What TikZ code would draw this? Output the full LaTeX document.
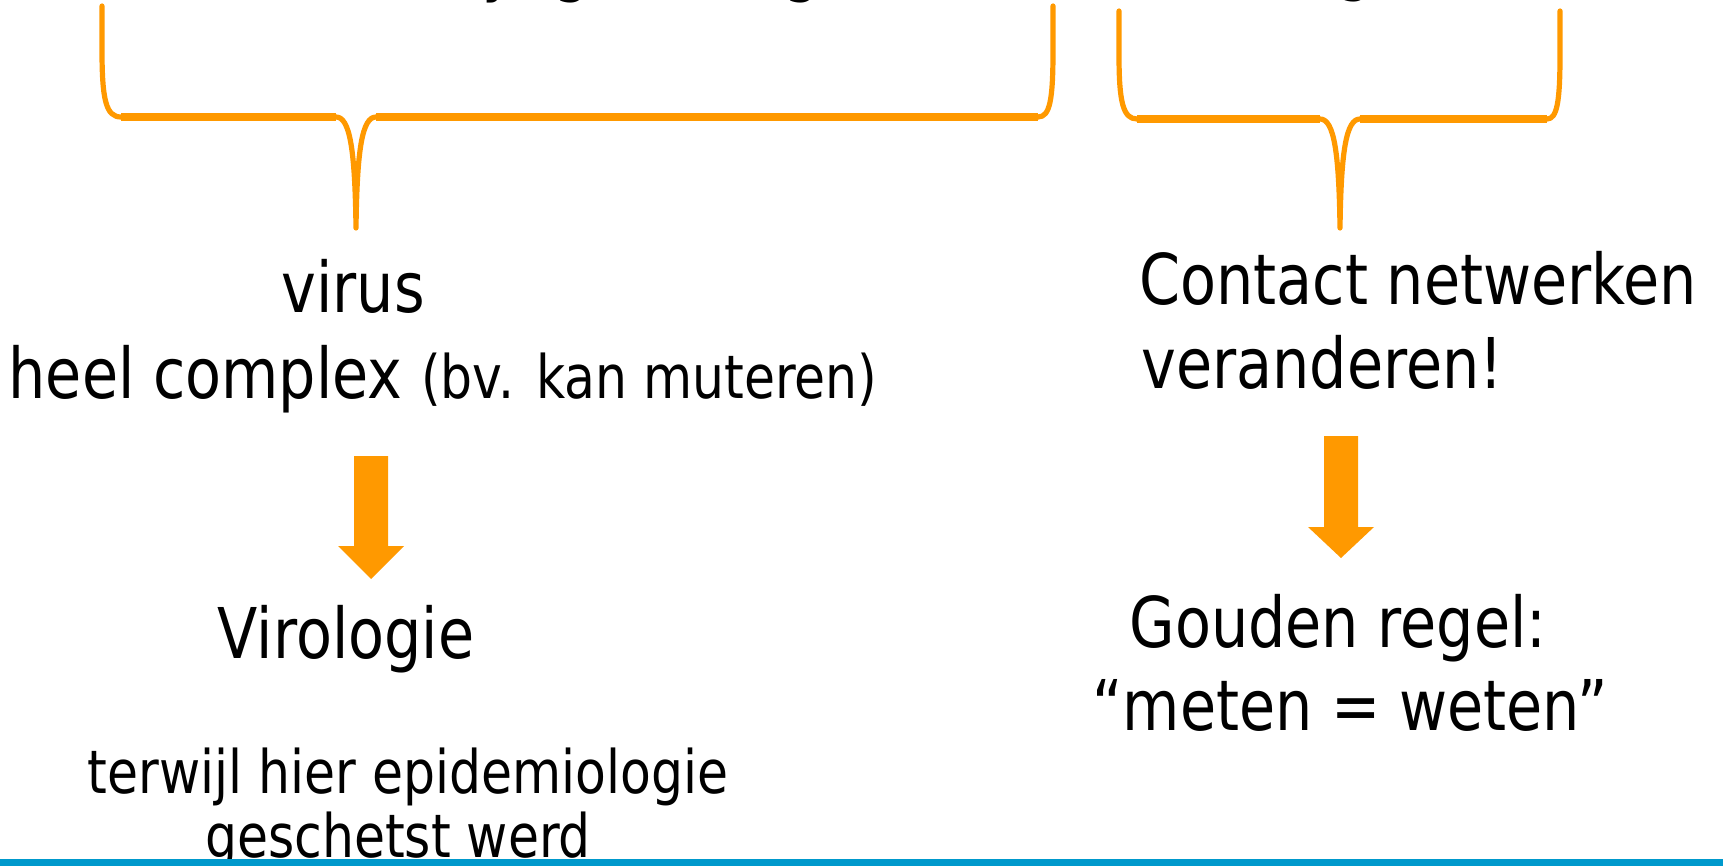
\documentclass[tikz,border=0pt]{standalone}
\usepackage{fontspec}
\setmainfont{DejaVu Sans}[FakeStretch=0.84]
\definecolor{accent}{RGB}{255,153,0}
\definecolor{rulecol}{RGB}{0,153,204}

\begin{document}
\begin{tikzpicture}[x=0.5pt,y=-0.5pt,
  big/.style={inner sep=0pt, font=\fontsize{35}{42}\selectfont, anchor=base},
  small/.style={inner sep=0pt, font=\fontsize{30}{36}\selectfont, anchor=base},
  bracestroke/.style={draw=accent, line width=2.6pt, line cap=round, line join=round},
  braceflat/.style={draw=accent, line width=4pt},
  blockarrow/.style={fill=accent}]

% page frame
\useasboundingbox (0,0) rectangle (1723,866);
\clip (0,0) rectangle (1723,866);
\fill[white] (0,0) rectangle (1723,866);

% heading line above the frame: only its descenders reach into view
\node[big] (d1) at (500,-11) {y};
\node[big] (d2) at (531,-9) {,};
\node[big] (d3) at (572,-11) {g};
\node[big] (d4) at (802,-11) {g};
\node[big] (d5) at (1355,-12) {g};

% left brace
\draw[bracestroke] (102,6) -- (102,50) .. controls (102,100) and (106,117) .. (121,117)
  -- (336,117) .. controls (350,117) and (355,150) .. (356,228)
  .. controls (357,150) and (362,117) .. (376,117)
  -- (1038,117) .. controls (1050,117) and (1053,100) .. (1053,50) -- (1053,6);
\draw[braceflat] (121,117) -- (336,117) (376,117) -- (1038,117);

% right brace
\draw[bracestroke] (1119,11) -- (1119,55) .. controls (1119,102) and (1123,119) .. (1137,119)
  -- (1320,119) .. controls (1334,119) and (1339,152) .. (1340,228)
  .. controls (1341,152) and (1346,119) .. (1360,119)
  -- (1547,119) .. controls (1557,119) and (1560,102) .. (1560,55) -- (1560,11);
\draw[braceflat] (1137,119) -- (1320,119) (1360,119) -- (1547,119);

% left column
\node[big] (virus) at (353,312) {virus};
\node[big] (complex) at (443,398) {heel complex {\fontsize{30}{36}\selectfont (bv. kan muteren)}};
\fill[blockarrow] (354,456) -- (388,456) -- (388,546) -- (404,546) -- (371,579)
  -- (338,546) -- (354,546) -- cycle;
\node[big] (viro) at (346,658) {Virologie};
\node[small] (epi1) at (408,793) {terwijl hier epidemiologie};
\node[small] (epi2) at (398,857) {geschetst werd};

% right column
\node[big, anchor=base west] (contact) at (1139,305) {Contact netwerken};
\node[big, anchor=base west] (change) at (1141,388) {veranderen!};
\fill[blockarrow] (1324,436) -- (1358,436) -- (1358,527) -- (1374,527) -- (1341,558)
  -- (1308,527) -- (1324,527) -- cycle;
\node[big] (rule) at (1338,647) {Gouden regel:};
\node[big] (motto) at (1350,730) {“meten = weten”};

% bottom rule
\fill[rulecol] (0,859) rectangle (1723,866);
\end{tikzpicture}
\end{document}
